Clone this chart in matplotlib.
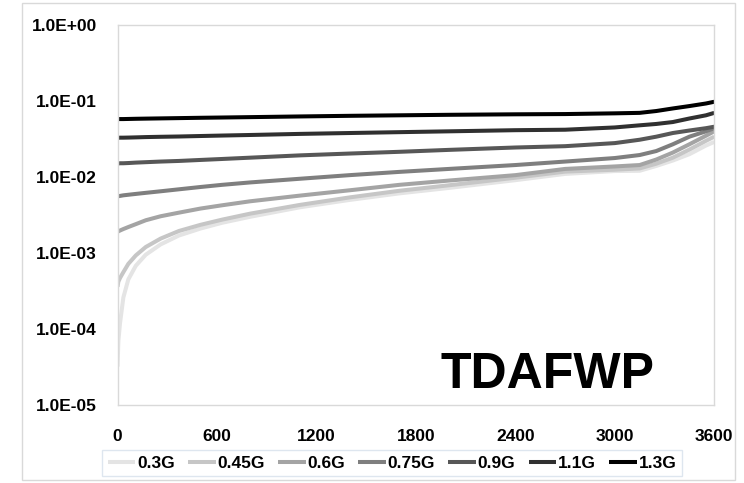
import matplotlib
matplotlib.use("Agg")
import matplotlib.pyplot as plt
from matplotlib.ticker import FuncFormatter, NullLocator
from matplotlib.patches import Rectangle

plt.rcParams['font.family'] = ['Liberation Sans', 'DejaVu Sans']

# time (s)
t = [0, 5, 15, 35, 65, 110, 170, 260, 370, 500, 630, 800, 1100, 1400, 1700,
     2000, 2400, 2700, 3000, 3150, 3250, 3350, 3450, 3550, 3600]

g03 = [3.2e-5, 7.0e-5, 1.2e-4, 2.6e-4, 4.5e-4, 6.8e-4, 9.5e-4, 1.3e-3, 1.7e-3,
       2.1e-3, 2.5e-3, 3.0e-3, 4.0e-3, 5.0e-3, 6.1e-3, 7.2e-3, 9.1e-3, 0.0110,
       0.0120, 0.0121, 0.0140, 0.0165, 0.0200, 0.0260, 0.0290]
g045 = [3.6e-4, 4.2e-4, 4.7e-4, 5.6e-4, 7.2e-4, 9.3e-4, 1.2e-3, 1.55e-3, 1.95e-3,
        2.35e-3, 2.75e-3, 3.3e-3, 4.3e-3, 5.4e-3, 6.6e-3, 7.8e-3, 9.8e-3, 0.0118,
        0.0125, 0.0130, 0.0150, 0.0180, 0.0230, 0.0300, 0.0340]
g06 = [1.9e-3, 1.93e-3, 1.98e-3, 2.07e-3, 2.2e-3, 2.4e-3, 2.7e-3, 3.05e-3, 3.4e-3,
       3.85e-3, 4.25e-3, 4.8e-3, 5.7e-3, 6.7e-3, 7.9e-3, 9.0e-3, 0.0106, 0.0128,
       0.0138, 0.0144, 0.0170, 0.0210, 0.0270, 0.0350, 0.0400]
g075 = [5.6e-3, 5.6e-3, 5.65e-3, 5.75e-3, 5.85e-3, 6.0e-3, 6.2e-3, 6.5e-3, 6.9e-3,
        7.4e-3, 7.9e-3, 8.5e-3, 9.5e-3, 0.0106, 0.0117, 0.0128, 0.0144, 0.0160,
        0.0178, 0.0195, 0.0220, 0.0270, 0.0340, 0.0400, 0.0440]
g09 = [0.0151, 0.0151, 0.0152, 0.0152, 0.0153, 0.0155, 0.0157, 0.0160, 0.0163,
       0.0168, 0.0173, 0.0180, 0.0193, 0.0204, 0.0215, 0.0228, 0.0245, 0.0255,
       0.0280, 0.0310, 0.0340, 0.0380, 0.0410, 0.0440, 0.0460]
g11 = [0.0329, 0.0329, 0.0330, 0.0330, 0.0331, 0.0333, 0.0336, 0.0339, 0.0342,
       0.0347, 0.0352, 0.0358, 0.0370, 0.0380, 0.0390, 0.0400, 0.0414, 0.0420,
       0.0450, 0.0480, 0.0500, 0.0530, 0.0590, 0.0650, 0.0700]
g13 = [0.058, 0.058, 0.058, 0.058, 0.0582, 0.0585, 0.0588, 0.0592, 0.0597,
       0.0603, 0.0608, 0.0615, 0.0628, 0.0640, 0.0650, 0.0660, 0.0670, 0.0675,
       0.0690, 0.0700, 0.0740, 0.0800, 0.0860, 0.0930, 0.0980]

series = [g03, g045, g06, g075, g09, g11, g13]
labels = ['0.3G', '0.45G', '0.6G', '0.75G', '0.9G', '1.1G', '1.3G']
colors = ['#e4e4e4', '#c6c6c6', '#a4a4a4', '#7f7f7f', '#575757', '#303030', '#000000']

xticks = [0, 600, 1200, 1800, 2400, 3000, 3600]

fig = plt.figure(figsize=(7.44, 4.83), dpi=100)
ax = fig.add_axes([0.158, 0.1615, 0.802, 0.7865])

for y, lab, c in zip(series, labels, colors):
    ax.plot(t, y, color=c, lw=2.9, label=lab, solid_capstyle='butt')

ax.set_yscale('log')
ax.set_ylim(1e-5, 1)
ax.set_xlim(0, 3600)
ax.set_xticks(xticks)
ax.yaxis.set_minor_locator(NullLocator())
ax.yaxis.set_major_formatter(FuncFormatter(lambda v, p: f"{v:.1E}"))
ax.tick_params(axis='both', length=0, labelsize=12.5)
ax.tick_params(axis='y', pad=15)
ax.tick_params(axis='x', pad=17)
for lab in ax.get_xticklabels() + ax.get_yticklabels():
    lab.set_fontweight('bold')
for s in ax.spines.values():
    s.set_color('#d9d9d9')
    s.set_linewidth(1)

ax.text(0.72, 0.045, 'TDAFWP', transform=ax.transAxes, ha='center',
        va='baseline', fontsize=36, fontweight='bold')

leg = fig.legend(loc='center', bbox_to_anchor=(0.527, 0.041), ncol=7,
                 frameon=True, fancybox=False, handlelength=1.6,
                 handletextpad=0.1, columnspacing=0.75, borderpad=0.3,
                 prop={'weight': 'bold', 'size': 12.5})
leg.get_frame().set_edgecolor('#d6e0ec')
leg.get_frame().set_linewidth(1)

fig.patches.append(Rectangle((0.03, 0.006), 0.958, 0.988, transform=fig.transFigure,
                             fill=False, edgecolor='#d9d9d9', lw=1))

fig.savefig('out.png', dpi=100)
